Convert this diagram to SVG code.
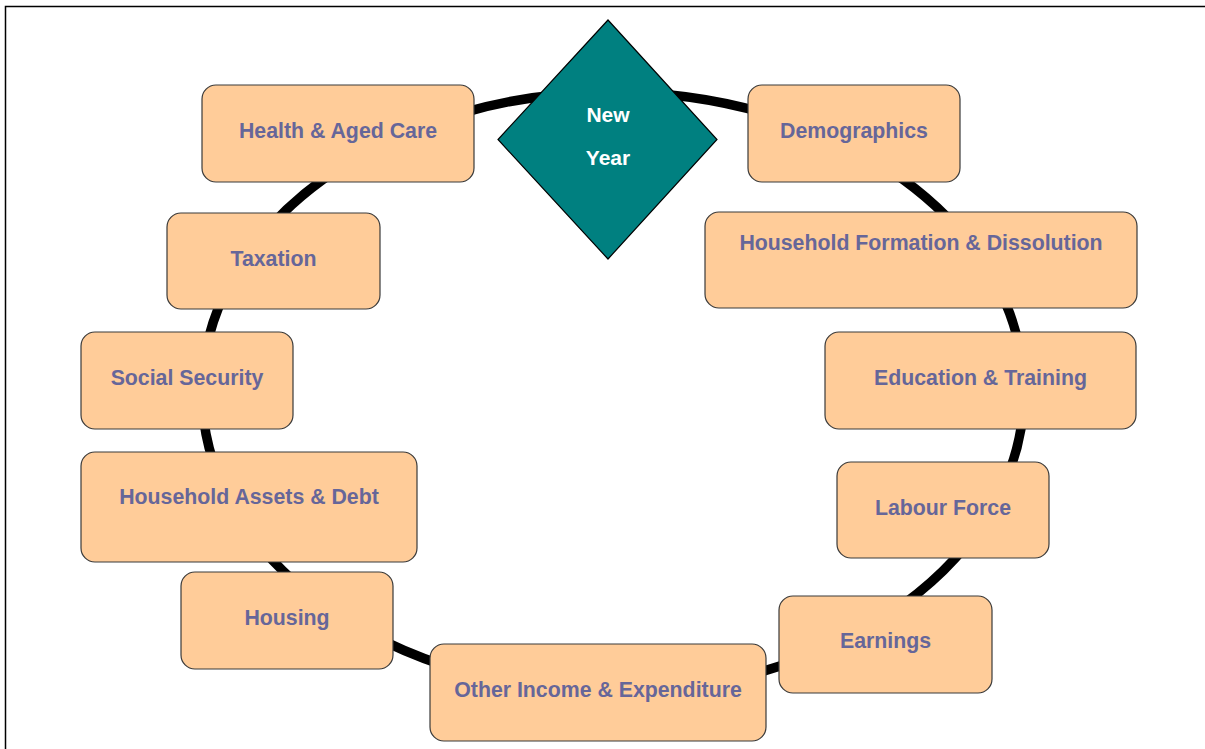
<svg xmlns="http://www.w3.org/2000/svg" width="1205" height="749" viewBox="0 0 1205 749">
<style>
.box{fill:#FFCC99;stroke:#3a3a3a;stroke-width:1.2}
.lbl{font-family:"Liberation Sans",Arial,sans-serif;font-weight:bold;font-size:21.3px;fill:#666699;text-anchor:middle}
.dlbl{font-family:"Liberation Sans",Arial,sans-serif;font-weight:bold;font-size:21px;fill:#FFFFFF;text-anchor:middle}
</style>
<rect x="0" y="0" width="1205" height="749" fill="#FFFFFF"/>
<rect x="5.5" y="6.5" width="1210" height="760" fill="none" stroke="#000000" stroke-width="1.5"/>
<g id="connectors">
<ellipse cx="613" cy="392" rx="411" ry="300" fill="none" stroke="#000000" stroke-width="9.5"/>
</g>
<g id="health"><rect class="box" x="202" y="85" width="272" height="97" rx="14"/><text class="lbl" x="338" y="138">Health &amp; Aged Care</text></g>
<g id="demographics"><rect class="box" x="748" y="85" width="212" height="97" rx="14"/><text class="lbl" x="854" y="138">Demographics</text></g>
<g id="hhformation"><rect class="box" x="705" y="212" width="432" height="96" rx="14"/><text class="lbl" x="921" y="250">Household Formation &amp; Dissolution</text></g>
<g id="taxation"><rect class="box" x="167" y="213" width="213" height="96" rx="14"/><text class="lbl" x="273.5" y="266">Taxation</text></g>
<g id="education"><rect class="box" x="825" y="332" width="311" height="97" rx="14"/><text class="lbl" x="980.5" y="385">Education &amp; Training</text></g>
<g id="socialsecurity"><rect class="box" x="81" y="332" width="212" height="97" rx="14"/><text class="lbl" x="187" y="385">Social Security</text></g>
<g id="hhassets"><rect class="box" x="81" y="452" width="336" height="110" rx="14"/><text class="lbl" x="249" y="504">Household Assets &amp; Debt</text></g>
<g id="labourforce"><rect class="box" x="837" y="462" width="212" height="96" rx="14"/><text class="lbl" x="943" y="515">Labour Force</text></g>
<g id="housing"><rect class="box" x="181" y="572" width="212" height="97" rx="14"/><text class="lbl" x="287" y="625">Housing</text></g>
<g id="earnings"><rect class="box" x="779" y="596" width="213" height="97" rx="14"/><text class="lbl" x="885.5" y="648">Earnings</text></g>
<g id="otherincome"><rect class="box" x="430" y="644" width="336" height="97" rx="14"/><text class="lbl" x="598" y="697">Other Income &amp; Expenditure</text></g>
<g id="newyear"><polygon points="608,20 717,139.5 608,259 498,139.5" fill="#008080" stroke="#000000" stroke-width="1.2"/><text class="dlbl" x="608" y="122">New</text><text class="dlbl" x="608" y="165">Year</text></g>
</svg>
